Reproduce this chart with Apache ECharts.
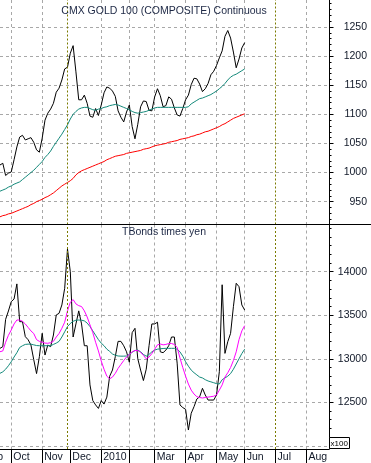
<!DOCTYPE html>
<html><head><meta charset="utf-8">
<script src="https://cdn.jsdelivr.net/npm/echarts@6/dist/echarts.min.js"></script>
<style>html,body{margin:0;padding:0;background:#fff}#c{width:371px;height:463px}</style>
</head><body><div id="c"></div>
<script>
// ---- data (one point every two trading days, Sep 21 2009 .. May 28 2010) ----
const goldPrice = [
1013,1016,995,999,1001,1022,1044,1061,1064,1056,
1058,1060,1052,1039,1035,1059,1090,1102,1109,1119,
1138,1145,1159,1178,1181,1205,1218,1173,1125,1125,
1133,1119,1097,1095,1110,1098,1116,1137,1147,1145,
1140,1131,1106,1095,1087,1104,1116,1079,1058,1083,
1113,1123,1122,1107,1106,1130,1144,1132,1113,1115,
1130,1126,1111,1099,1097,1110,1125,1133,1151,1162,
1161,1152,1139,1144,1153,1168,1174,1184,1197,1209,
1234,1244,1231,1207,1180,1195,1214,1223];
const goldMA50 = [
968,970,972,975,977,980,982,984,988,992,
996,1000,1004,1009,1014,1019,1026,1031,1037,1045,
1052,1059,1066,1074,1082,1092,1100,1105,1109,1111,
1112,1112,1110,1108,1107,1109,1110,1112,1113,1115,
1116,1117,1116,1114,1112,1110,1108,1105,1103,1102,
1103,1104,1105,1107,1109,1111,1112,1112,1112,1112,
1112,1112,1112,1112,1112,1112,1112,1113,1118,1121,
1124,1127,1128,1130,1132,1134,1137,1140,1144,1148,
1153,1159,1164,1167,1169,1172,1175,1178];
const goldMA200 = [
924,926,927,929,930,932,934,936,938,940,
942,945,947,950,952,954,957,959,962,965,
969,973,977,980,983,986,990,996,1000,1003,
1005,1007,1009,1011,1013,1015,1017,1019,1022,1024,
1026,1028,1029,1030,1031,1033,1034,1035,1036,1037,
1038,1040,1041,1042,1044,1046,1047,1048,1049,1050,
1052,1053,1054,1055,1057,1058,1059,1060,1062,1063,
1065,1066,1068,1070,1071,1073,1075,1077,1079,1082,
1084,1087,1090,1093,1095,1097,1099,1101];
const bondPrice = [
13120,13139,13453,13549,13656,13686,13860,13426,13426,13254,
13219,13158,12990,12830,13024,13292,13043,13158,13139,13273,
13503,13522,13618,13809,14260,14000,13250,13400,13550,13400,
13150,13150,12700,12520,12470,12430,12520,12480,12560,12800,
12871,13024,13200,13200,13150,13080,12960,13300,13350,13000,
12871,12750,12880,13150,13400,13400,13420,13080,13070,13100,
13150,13250,13250,12950,12470,12440,12420,12182,12374,12450,
12538,12564,12661,12584,12526,12526,12526,12584,12851,13850,
13062,13196,13292,13598,13867,13828,13618,13560];
const bondMAfast = [
13081,13090,13190,13270,13330,13400,13445,13445,13430,13400,
13360,13320,13290,13220,13200,13190,13180,13178,13185,13200,
13250,13290,13350,13420,13550,13650,13680,13630,13610,13600,
13550,13480,13390,13300,13190,13090,12975,12880,12800,12770,
12790,12833,12890,12935,12980,13020,13050,13080,13095,13095,
13075,13040,13000,13020,13060,13110,13160,13170,13160,13165,
13175,13175,13165,13130,13010,12900,12800,12710,12640,12595,
12565,12555,12550,12555,12560,12565,12570,12585,12640,12700,
12790,12840,12900,12980,13080,13220,13320,13380];
const bondMAslow = [
12833,12850,12880,12920,12966,13020,13070,13130,13150,13165,
13168,13168,13160,13152,13150,13150,13150,13150,13150,13165,
13180,13200,13250,13310,13370,13405,13430,13443,13445,13443,
13435,13410,13370,13320,13270,13220,13180,13150,13110,13085,
13055,13040,13032,13030,13030,13032,13050,13075,13095,13100,
13080,13050,13030,13050,13080,13100,13110,13115,13118,13120,
13120,13120,13120,13110,13080,13030,12966,12915,12870,12840,
12815,12790,12780,12760,12745,12735,12725,12715,12710,12760,
12780,12800,12830,12880,12940,13000,13060,13110];

const categoryCount = 118;                 // two-trading-day slots up to late Aug 2010
const monthStartIdx = [4,15,25,36,46,55,66,77,87,98,109];
const monthLabels   = ['Oct','Nov','Dec','2010','','Mar','Apr','May','Jun','Jul','Aug'];
const gridLineIdx   = [4,15,36,46,55,66,77,87,109];
const markerIdx     = [24,98];
const goldMajorTicks = [950,1000,1050,1100,1150,1200,1250];
const goldMinorTicks = [920,930,940,960,970,980,990,1010,1020,1030,1040,1060,1070,1080,1090,1110,1120,1130,1140,1160,1170,1180,1190,1210,1220,1230,1240,1260,1270,1280,1290];
const bondMajorTicks = [12000,12500,13000,13500,14000];
const bondLabelTicks = [12500,13000,13500,14000];
const bondMinorTicks = [12100,12200,12300,12400,12600,12700,12800,12900,13100,13200,13300,13400,13600,13700,13800,13900,14100,14200,14300,14400,14500];

const cats = Array.from({length: categoryCount}, (_, i) => String(i));
const FONT = 'Liberation Sans, Arial, sans-serif';
const dash = {color:'#a8a8a8', width:1, type:[3,3]};
const olive = {color:'#7a7a00', width:1, type:[2,2]};
const inList = (arr) => (i) => arr.indexOf(i) >= 0;

function xAx(grid, bottom){
  return {
    type:'category', gridIndex:grid, data:cats, boundaryGap:false,
    axisLine:{show:bottom, onZero:false, lineStyle:{color:'#000', width:1}},
    axisTick:{show:bottom, interval:inList(monthStartIdx), length:14, lineStyle:{color:'#000'}},
    axisLabel:{show:bottom, interval:inList(monthStartIdx), align:'left', margin:3,
      padding:[0,0,0,2], fontSize:10.5, fontFamily:FONT, color:'#101828',
      formatter:(v, i) => { const k = monthStartIdx.indexOf(Number(v)); return k >= 0 ? monthLabels[k] : ''; }},
    splitLine:{show:true, interval:inList(gridLineIdx), lineStyle:dash}
  };
}
function yMajor(grid, min, max, ticks, labels){
  return {
    type:'value', gridIndex:grid, position:'right', min, max,
    axisLine:{show:true, onZero:false, lineStyle:{color:'#000', width:1}},
    axisTick:{show:true, customValues:ticks, length:4.5, lineStyle:{color:'#000'}},
    axisLabel:{show:true, customValues:labels, align:'right', margin:38, fontSize:10.5,
      fontFamily:FONT, color:'#101828', formatter:(v) => String(v)},
    splitLine:{show:true, lineStyle:dash}
  };
}
function yMinor(grid, min, max, ticks){
  return {
    type:'value', gridIndex:grid, position:'right', min, max,
    axisLine:{show:false}, axisLabel:{show:false}, splitLine:{show:false},
    axisTick:{show:true, customValues:ticks, length:2.5, lineStyle:{color:'#000'}}
  };
}
function line(data, color, xi, yi, marks){
  const s = {type:'line', data, xAxisIndex:xi, yAxisIndex:yi, symbol:'none', smooth:false,
    lineStyle:{color, width:1}, itemStyle:{color}, animation:false, silent:true};
  if (marks) s.markLine = {silent:true, symbol:'none', label:{show:false}, lineStyle:olive,
    data: markerIdx.map(i => ({xAxis: String(i)}))};
  return s;
}

const chart = echarts.init(document.getElementById('c'));
chart.setOption({
  animation:false,
  backgroundColor:'#fff',
  grid:[
    {left:0, top:0, width:329, height:224.5, containLabel:false, outerBoundsMode:'none'},
    {left:0, top:224.5, width:329, height:224.5, containLabel:false, outerBoundsMode:'none'}
  ],
  xAxis:[xAx(0,false), xAx(1,true)],
  yAxis:[
    yMajor(0, 910.8, 1296.4, goldMajorTicks, goldMajorTicks),
    yMinor(0, 910.8, 1296.4, goldMinorTicks),
    yMajor(1, 11964, 14542, bondMajorTicks, bondLabelTicks),
    yMinor(1, 11964, 14542, bondMinorTicks)
  ],
  series:[
    line(goldPrice, '#000000', 0, 0, true),
    line(goldMA50, '#13897a', 0, 0),
    line(goldMA200, '#ff0000', 0, 0),
    line(bondPrice, '#000000', 1, 2, true),
    line(bondMAslow, '#13897a', 1, 2),
    line(bondMAfast, '#ff00ff', 1, 2)
  ],
  graphic:[
    {type:'line', shape:{x1:0, y1:224.5, x2:371, y2:224.5}, style:{stroke:'#000', lineWidth:1}, z:100},
    {type:'text', x:164, y:11, style:{text:'CMX GOLD 100 (COMPOSITE) Continuous', font:'10.5px '+FONT,
      fill:'#1c2744', textAlign:'center', textVerticalAlign:'middle'}, z:100},
    {type:'text', x:164, y:232.5, style:{text:'TBonds times yen', font:'10.5px '+FONT,
      fill:'#1c2744', textAlign:'center', textVerticalAlign:'middle'}, z:100},
    {type:'rect', shape:{x:329.5, y:437.5, width:20, height:11}, style:{fill:'#fff', stroke:'#000', lineWidth:1}, z:100},
    {type:'text', x:330.5, y:443.5, style:{text:'x100', font:'8px '+FONT, fill:'#000', textVerticalAlign:'middle'}, z:101},
    {type:'text', x:3, y:451.5, style:{text:'Sep', font:'10.5px '+FONT, fill:'#101828', textAlign:'right', textVerticalAlign:'top'}, z:100}
  ]
});
</script></body></html>
